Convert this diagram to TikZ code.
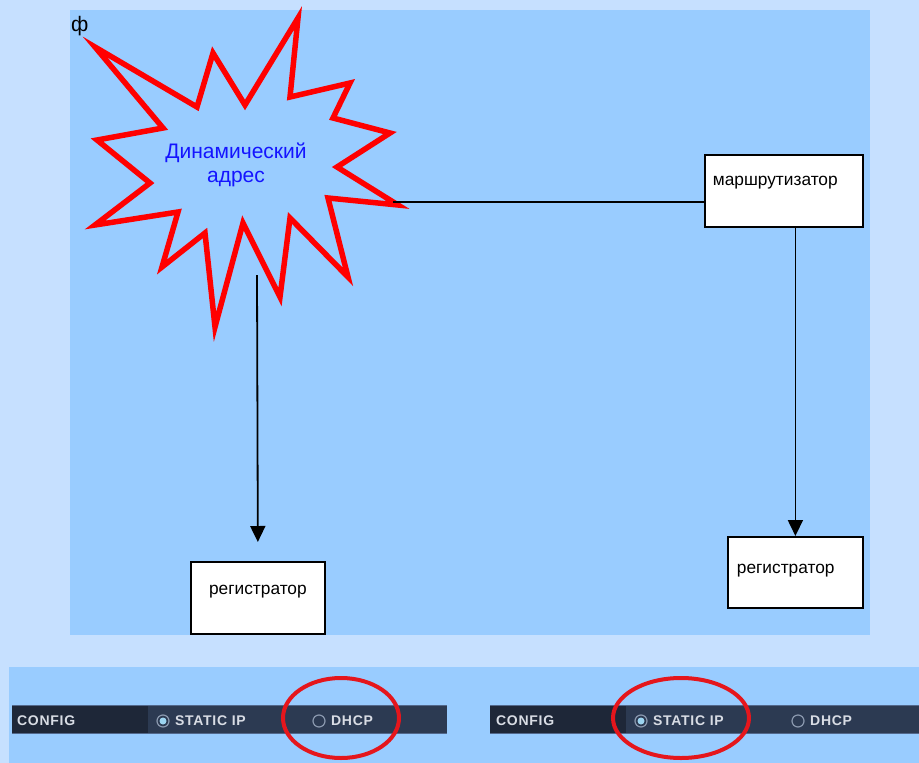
\documentclass[tikz,border=0pt]{standalone}
\usepackage{fontspec}
\setmainfont{Liberation Sans}
\usetikzlibrary{arrows.meta,shapes.geometric}
\definecolor{outerbg}{HTML}{C6E0FF}
\definecolor{panel}{HTML}{99CCFF}
\definecolor{starred}{HTML}{FF0000}
\definecolor{dynblue}{HTML}{1414FF}
\definecolor{bar}{HTML}{2C3A52}
\definecolor{bardark}{HTML}{1E2738}
\definecolor{barline}{HTML}{52688C}
\definecolor{bartext}{HTML}{D8DCE4}
\definecolor{ringred}{HTML}{E5161C}
\definecolor{radioring}{HTML}{8A98AE}
\definecolor{radiodot}{HTML}{9CD4F0}
\begin{document}
\begin{tikzpicture}[x=1pt,y=-1pt,
  box/.style={draw=black, line width=1.8pt, fill=white, rectangle, inner ysep=0pt,
    anchor=north west, font=\fontsize{17.3}{20}\selectfont},
  conn/.style={draw=black, line width=1.8pt},
  arr/.style={-{Triangle[width=15pt,length=16pt]}},
  dyntext/.style={text=dynblue, align=center, font=\fontsize{21}{24}\selectfont},
  bartxt/.style={text=bartext, inner sep=0pt, anchor=west,
    font=\fontsize{14}{16}\selectfont\bfseries\addfontfeatures{LetterSpace=5}},
  radio/.style={circle, draw=radioring, line width=1.2pt, minimum size=12pt, inner sep=0pt},
  radiosel/.style={radio, path picture={\fill[radiodot] (path picture bounding box.center) circle (3.5pt);}},
  ring/.style={ellipse, draw=ringred, line width=4pt, inner sep=0pt}
]
\path[use as bounding box, fill=outerbg] (0,0) rectangle (919,763);
\fill[panel] (70,10) rectangle (870,635);
\fill[panel] (9,667) rectangle (919,763);

% starburst
\draw[starred, line width=5.5pt, line join=miter, fill=panel]
 (95,47) -- (197,107) -- (213,53) -- (245,105) -- (298,18) -- (290,97) -- (350,83)
 -- (333,118) -- (390,133) -- (337,167) -- (398,205) -- (328,198) -- (348,277)
 -- (290,218) -- (280,297) -- (243,223) -- (215,327) -- (205,233) -- (162,267)
 -- (178,212) -- (95,225) -- (150,183) -- (97,140) -- (163,128) -- cycle;
\node[dyntext] (dyn) at (236,165) {Динамический\\адрес};
\node[inner sep=0pt, anchor=west, font=\fontsize{21}{24}\selectfont] (phi) at (71,26) {ф};
\coordinate (dynR) at (393,202);
\coordinate (dynB) at (257,275);

% boxes
\node[box, text width=142pt, inner xsep=8pt, text height=31pt, text depth=41pt, align=left]
  (router) at (704,154) {маршрутизатор};
\node[box, text width=117pt, inner xsep=9pt, text height=37pt, text depth=34pt, align=left]
  (regR) at (727,536) {регистратор};
\node[box, text width=134pt, inner xsep=0pt, text height=33pt, text depth=39pt, align=center]
  (regL) at (190,561) {регистратор};

% connectors
\draw[conn] (dynR) -- (dynR -| router.west);
\draw[conn, arr, shorten >=19pt] (dynB) -- (regL.north);
\draw[conn, arr] (router.south -| regR.north) -- (regR.north);

% bottom bars
\fill[bar] (12,705) rectangle (447,734);
\fill[bardark] (12,705) rectangle (148,734);
\draw[barline, line width=1pt] (12,705.5) -- (447,705.5);
\draw[barline, line width=0.8pt] (12,733.6) -- (447,733.6);
\node[bartxt] (cfgL) at (17,721) {CONFIG};
\node[radiosel] (rsL) at (163,721) {};
\node[bartxt] (stL) at (175,721) {STATIC IP};
\node[radio] (rdL) at (319,721) {};
\node[bartxt] (dhL) at (331,721) {DHCP};
\node[ring, minimum width=116pt, minimum height=80pt] (ringL) at (341,718) {};

\fill[bar] (490,705) rectangle (919,734);
\fill[bardark] (490,705) rectangle (626,734);
\draw[barline, line width=1pt] (490,705.5) -- (919,705.5);
\draw[barline, line width=0.8pt] (490,733.6) -- (919,733.6);
\node[bartxt] (cfgR) at (496,721) {CONFIG};
\node[radiosel] (rsR) at (641,721) {};
\node[bartxt] (stR) at (653,721) {STATIC IP};
\node[radio] (rdR) at (798,721) {};
\node[bartxt] (dhR) at (810,721) {DHCP};
\node[ring, minimum width=136pt, minimum height=80pt] (ringR) at (681,718) {};
\end{tikzpicture}
\end{document}
